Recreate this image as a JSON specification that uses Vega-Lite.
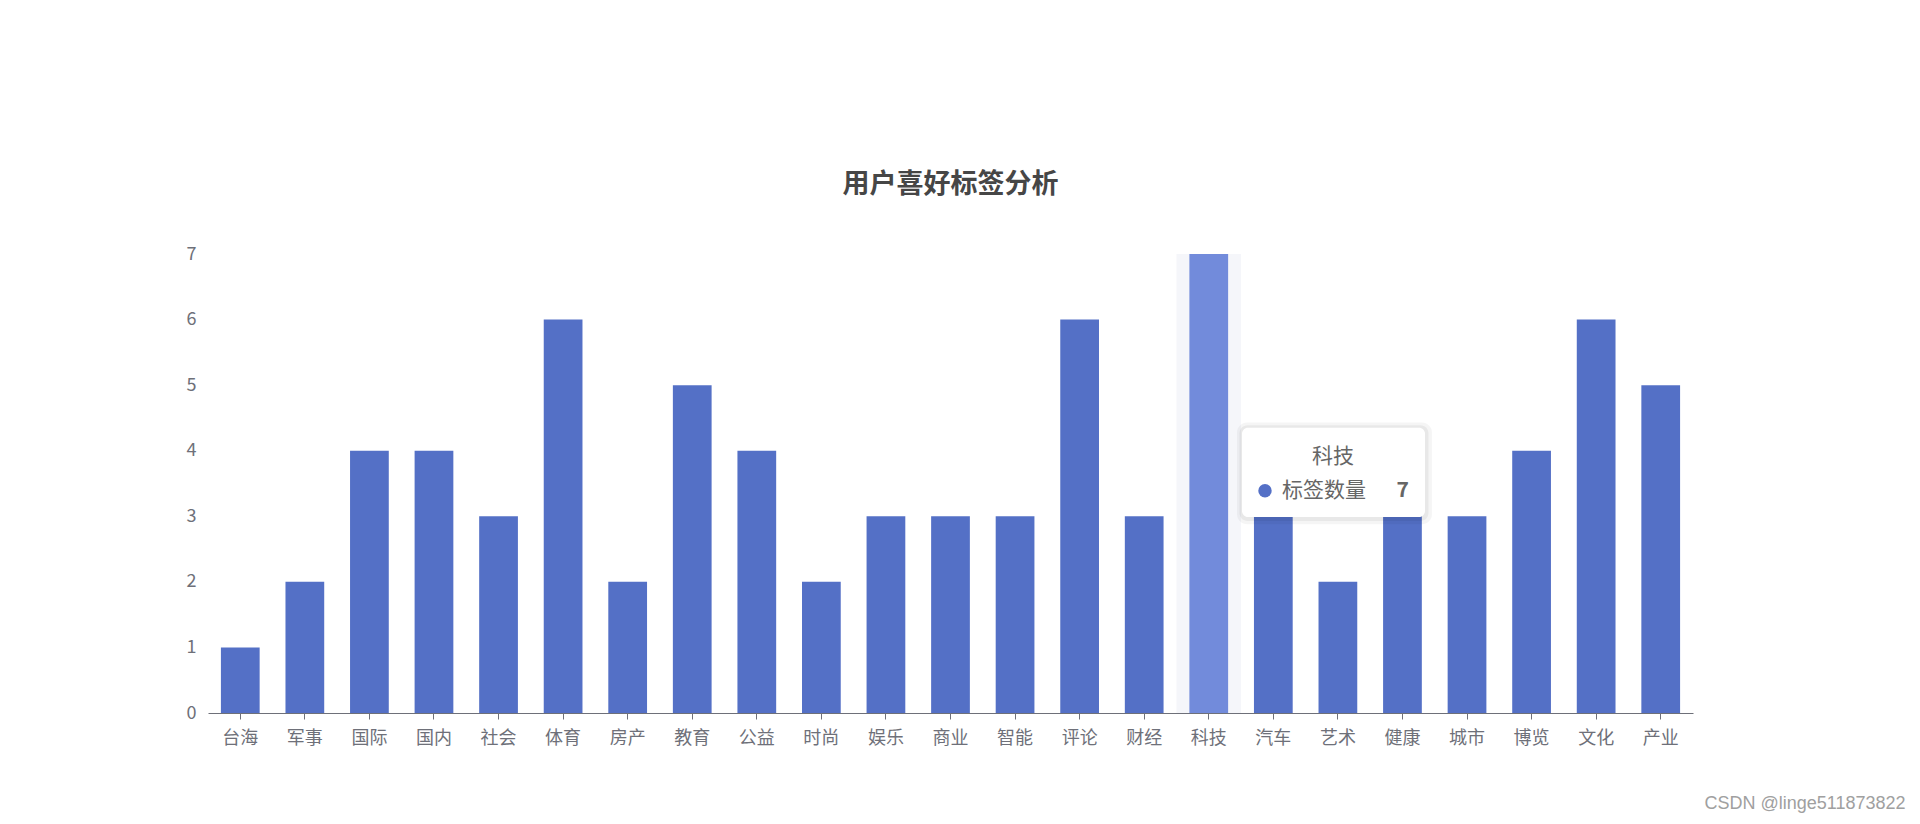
{
  "$schema": "https://vega.github.io/schema/vega-lite/v6.json",
  "autosize": {"type": "none"},
  "width": 1485,
  "height": 459,
  "padding": {"left": 208, "top": 254, "right": 227, "bottom": 111},
  "background": "#ffffff",
  "config": {
    "view": {"stroke": null},
    "font": "Noto Sans CJK SC"
  },
  "title": {
    "text": "用户喜好标签分析",
    "fontSize": 27,
    "fontWeight": "bold",
    "color": "#464646",
    "anchor": "middle",
    "frame": "group",
    "baseline": "middle",
    "offset": 33,
    "font": "Noto Sans CJK SC"
  },
  "data": {
    "values": [
      {"tag": "台海", "count": 1},
      {"tag": "军事", "count": 2},
      {"tag": "国际", "count": 4},
      {"tag": "国内", "count": 4},
      {"tag": "社会", "count": 3},
      {"tag": "体育", "count": 6},
      {"tag": "房产", "count": 2},
      {"tag": "教育", "count": 5},
      {"tag": "公益", "count": 4},
      {"tag": "时尚", "count": 2},
      {"tag": "娱乐", "count": 3},
      {"tag": "商业", "count": 3},
      {"tag": "智能", "count": 3},
      {"tag": "评论", "count": 6},
      {"tag": "财经", "count": 3},
      {"tag": "科技", "count": 7},
      {"tag": "汽车", "count": 3},
      {"tag": "艺术", "count": 2},
      {"tag": "健康", "count": 3},
      {"tag": "城市", "count": 3},
      {"tag": "博览", "count": 4},
      {"tag": "文化", "count": 6},
      {"tag": "产业", "count": 5}
    ]
  },
  "encoding": {
    "x": {
      "field": "tag",
      "type": "nominal",
      "sort": null,
      "scale": {
        "domain": ["台海", "军事", "国际", "国内", "社会", "体育", "房产", "教育", "公益", "时尚", "娱乐", "商业", "智能", "评论", "财经", "科技", "汽车", "艺术", "健康", "城市", "博览", "文化", "产业"],
        "paddingInner": 0.4,
        "paddingOuter": 0.2
      },
      "axis": {
        "labelAngle": 0,
        "labelFontSize": 18,
        "labelColor": "#6E7079",
        "labelPadding": 10,
        "labelFont": "Noto Sans CJK SC",
        "domainColor": "#6E7079",
        "domainWidth": 1,
        "tickColor": "#6E7079",
        "tickSize": 6,
        "grid": false,
        "title": "CSDN @linge511873822",
        "titleFont": "Liberation Sans",
        "titleFontSize": 18,
        "titleFontWeight": "normal",
        "titleColor": "#a0a0a0",
        "titleAlign": "right",
        "titleBaseline": "middle",
        "titleAnchor": null,
        "titleX": 1697,
        "titleY": 90
      }
    }
  },
  "layer": [
    {
      "transform": [{"filter": "datum.tag === '科技'"}],
      "mark": {"type": "bar", "color": "#f5f6fa", "width": 64.6},
      "encoding": {
        "y": {"datum": 7, "type": "quantitative"},
        "y2": {"datum": 0}
      }
    },
    {
      "mark": {"type": "bar"},
      "encoding": {
        "y": {
          "field": "count",
          "type": "quantitative",
          "scale": {"domain": [0, 7], "nice": false},
          "axis": {
            "values": [0, 1, 2, 3, 4, 5, 6, 7],
            "format": "d",
            "title": null,
            "domain": false,
            "ticks": false,
            "labelFontSize": 18,
            "labelColor": "#6E7079",
            "labelPadding": 12,
            "labelFont": "Noto Sans CJK SC",
            "gridColor": "#E0E6F1",
            "gridWidth": 1
          }
        },
        "color": {
          "condition": {"test": "datum.tag === '科技'", "value": "#728bdb"},
          "value": "#5470c6"
        }
      }
    },
    {
      "transform": [{"filter": "datum.tag === '科技'"}],
      "mark": {"type": "bar", "color": "#000000", "opacity": 0.04, "width": 195, "xOffset": -3.4, "cornerRadius": 10},
      "encoding": {
        "x": {"datum": "艺术"},
        "y": {"datum": 2.88},
        "y2": {"datum": 4.43}
      }
    },
    {
      "transform": [{"filter": "datum.tag === '科技'"}],
      "mark": {"type": "bar", "color": "#000000", "opacity": 0.05, "width": 189, "xOffset": -3.9, "cornerRadius": 8},
      "encoding": {
        "x": {"datum": "艺术"},
        "y": {"datum": 2.93},
        "y2": {"datum": 4.39}
      }
    },
    {
      "transform": [{"filter": "datum.tag === '科技'"}],
      "mark": {"type": "bar", "color": "#ffffff", "width": 183, "xOffset": -4.4, "cornerRadius": 6},
      "encoding": {
        "x": {"datum": "艺术"},
        "y": {"datum": 2.99},
        "y2": {"datum": 4.35}
      }
    },
    {
      "transform": [{"filter": "datum.tag === '科技'"}],
      "mark": {"type": "text", "fontSize": 21, "color": "#666666", "align": "center", "baseline": "middle", "xOffset": -5, "font": "Noto Sans CJK SC"},
      "encoding": {
        "x": {"datum": "艺术"},
        "y": {"datum": 3.9},
        "text": {"field": "tag"}
      }
    },
    {
      "transform": [{"filter": "datum.tag === '科技'"}],
      "mark": {"type": "point", "filled": true, "shape": "circle", "size": 180, "color": "#5470c6", "opacity": 1, "xOffset": -72.9},
      "encoding": {
        "x": {"datum": "艺术"},
        "y": {"datum": 3.39}
      }
    },
    {
      "transform": [{"filter": "datum.tag === '科技'"}],
      "mark": {"type": "text", "fontSize": 21, "color": "#666666", "align": "left", "baseline": "middle", "xOffset": -56, "font": "Noto Sans CJK SC", "text": "标签数量"},
      "encoding": {
        "x": {"datum": "艺术"},
        "y": {"datum": 3.39}
      }
    },
    {
      "transform": [{"filter": "datum.tag === '科技'"}],
      "mark": {"type": "text", "fontSize": 21, "fontWeight": "bold", "color": "#666666", "align": "right", "baseline": "middle", "xOffset": 71, "font": "Noto Sans CJK SC"},
      "encoding": {
        "x": {"datum": "艺术"},
        "y": {"datum": 3.39},
        "text": {"field": "count"}
      }
    }
  ]
}
